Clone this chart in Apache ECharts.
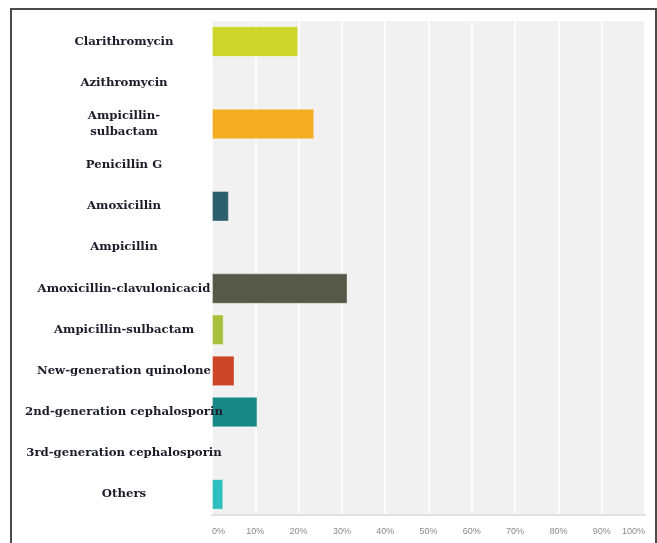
<!DOCTYPE html>
<html>
<head>
<meta charset="utf-8">
<script src="https://cdn.jsdelivr.net/npm/echarts@6/dist/echarts.min.js"></script>
<style>
  html, body { margin: 0; padding: 0; background: #fff; }
  #frame {
    position: absolute; left: 10px; top: 8px; width: 643px; height: 560px;
    border-left: 2px solid #4a4a4a; border-top: 2px solid #4a4a4a; border-right: 2px solid #4a4a4a;
  }
  #echart-bar { position: absolute; left: 0; top: 0; width: 657px; height: 543px; }
</style>
</head>
<body>
<div id="frame"></div>
<div id="echart-bar"></div>
<script>
// categories, top to bottom
const drugNames = [
  'Clarithromycin',
  'Azithromycin',
  'Ampicillin-\nsulbactam',
  'Penicillin G',
  'Amoxicillin',
  'Ampicillin',
  'Amoxicillin-clavulonicacid',
  'Ampicillin-sulbactam',
  'New-generation quinolone',
  '2nd-generation cephalosporin',
  '3rd-generation cephalosporin',
  'Others'
];
// percent of respondents
const percentValues = [19.9, 0, 23.6, 0, 3.9, 0, 31.3, 2.7, 5.2, 10.5, 0, 2.6];
const barColors = ['#cdd52b', '#cdd52b', '#f4ad21', '#2b5f6c', '#2b5f6c', '#575948',
  '#575948', '#a9c03c', '#cc4527', '#178886', '#178886', '#2dbfbf'];
const tickValues = [0, 10, 20, 30, 40, 50, 60, 70, 80, 90, 100];

let getChart = echarts.init(document.getElementById('echart-bar'));
const option = {
  animation: false,
  grid: { //plot area
    left: 212,
    right: 12,
    top: 21,
    bottom: 28,
    show: true,
    backgroundColor: '#f1f1f1',
    borderWidth: 0
  },
  xAxis: {
    type: 'value',
    min: tickValues[0],
    max: tickValues[tickValues.length - 1],
    interval: tickValues[1] - tickValues[0],
    axisLine: { show: true, lineStyle: { color: '#e2e2e2', width: 2 } },
    axisTick: { show: false },
    splitLine: { show: true, lineStyle: { color: '#ffffff', width: 1.5 } },
    axisLabel: {
      formatter: '{value}%',
      color: '#8a8a8a',
      fontFamily: 'Liberation Sans',
      fontSize: 9,
      margin: 12,
      alignMinLabel: 'left',
      alignMaxLabel: 'right'
    }
  },
  yAxis: {
    type: 'category',
    inverse: true,
    data: drugNames,
    z: 5,
    axisLine: { show: false },
    axisTick: { show: false },
    splitLine: { show: false },
    axisLabel: {
      align: 'center',
      margin: 88,
      color: '#1c1c2a',
      fontFamily: 'DejaVu Serif',
      fontWeight: 'bold',
      fontSize: 11.7,
      lineHeight: 16
    }
  },
  series: [
    {
      type: 'bar',
      barWidth: '74%',
      data: percentValues.map((v, i) => ({ value: v, itemStyle: { color: barColors[i] } })),
      itemStyle: { borderColor: 'rgba(255,255,255,0.35)', borderWidth: 1 }
    }
  ]
};
getChart.setOption(option);
window.addEventListener("resize", () => {
  getChart.resize();
});
</script>
</body>
</html>
